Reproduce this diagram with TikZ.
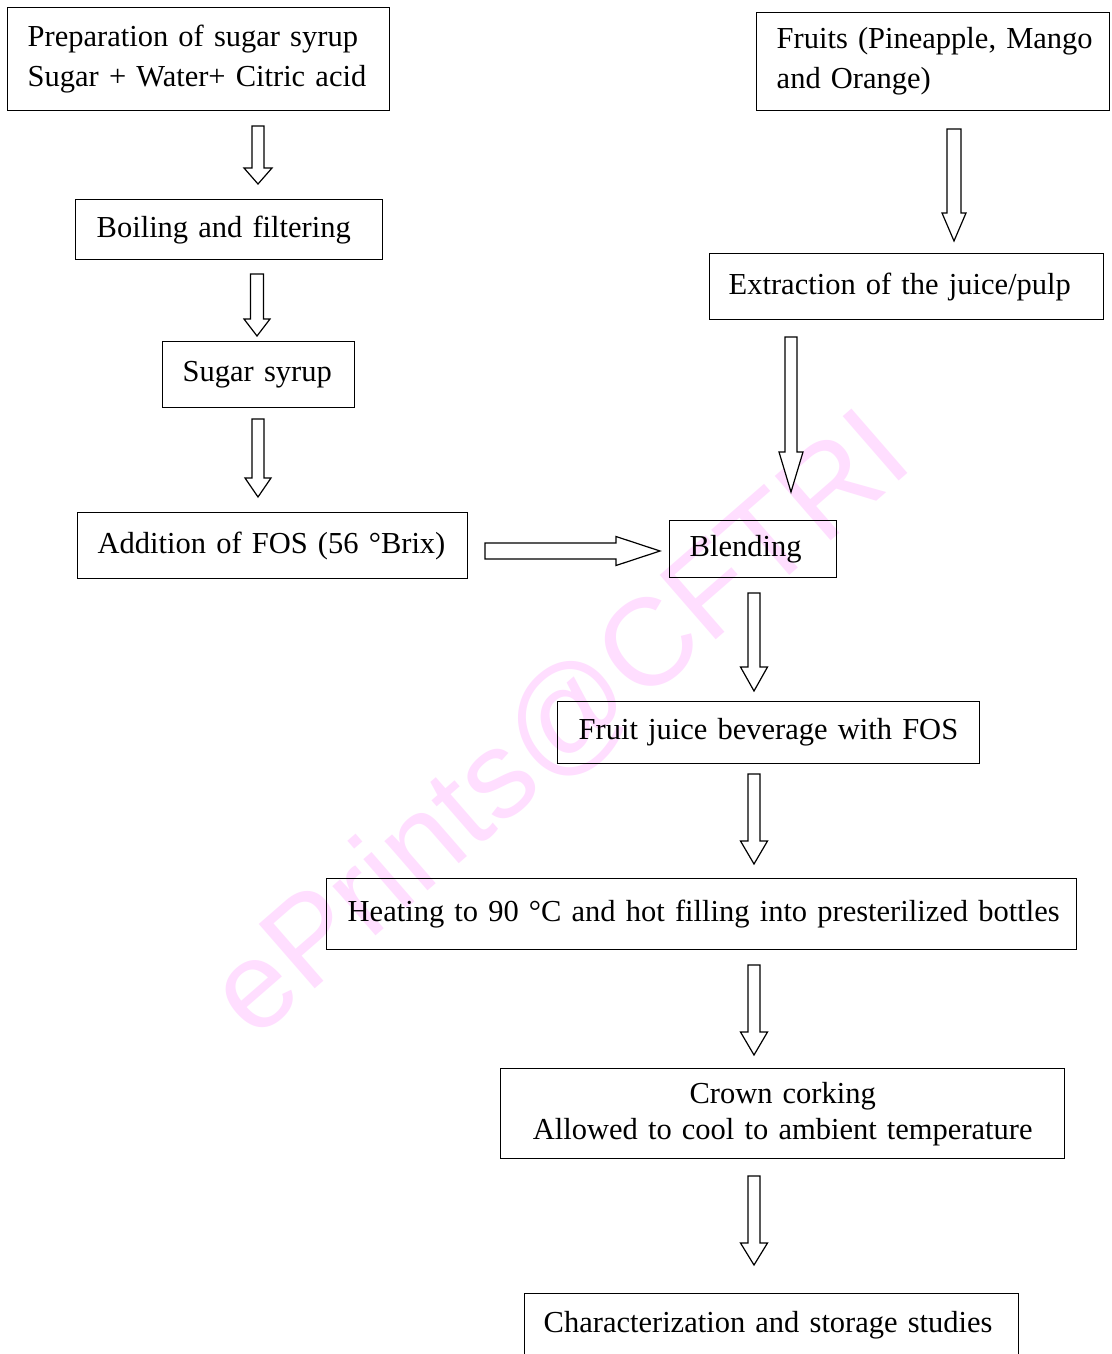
\documentclass[tikz,border=0pt]{standalone}
\usepackage{fontspec}
\setmainfont{Liberation Serif}
\newfontfamily\wmfont{Liberation Sans}
\usetikzlibrary{calc}
\definecolor{wmpink}{RGB}{255,222,255}
\tikzset{
  box/.style={draw, line width=1.4pt, anchor=north west, inner ysep=0pt, align=left,
    font=\fontsize{30.5}{40}\selectfont},
  blk/.style={draw, fill=white, line width=1.2pt, line join=miter},
}
\newcommand\vblock[5]{%
  \draw[blk] let \p1=(#1), \p2=(#2) in
    (\x1-#4pt,\y1) -- (\x1+#4pt,\y1) -- (\x1+#4pt,\y2+#3pt) -- (\x1+#5pt,\y2+#3pt)
    -- (\x2,\y2) -- (\x1-#5pt,\y2+#3pt) -- (\x1-#4pt,\y2+#3pt) -- cycle;}
\newcommand\hblock[5]{%
  \draw[blk] let \p1=(#1), \p2=(#2) in
    (\x1,\y1+#4pt) -- (\x2-#3pt,\y1+#4pt) -- (\x2-#3pt,\y1+#5pt) -- (\x2,\y2)
    -- (\x2-#3pt,\y1-#5pt) -- (\x2-#3pt,\y1-#4pt) -- (\x1,\y1-#4pt) -- cycle;}
\begin{document}
\begin{tikzpicture}[x=1pt,y=-1pt]
\useasboundingbox (0,0) rectangle (1111,1354);
\clip (0,0) rectangle (1111,1354);
\fill[white] (0,0) rectangle (1111,1354);
% watermark
\node[text=wmpink, font=\wmfont\fontsize{124}{124}\selectfont, rotate=41, inner sep=0pt] (wm) at (562,726) {ePrints@CFTRI};

% boxes
\node[box, minimum width=382pt, minimum height=103pt, inner xsep=20pt, text width=342pt] (A) at (7,7)
  {\mbox{Preparation of sugar syrup}\\\mbox{Sugar + Water+ Citric acid}};
\node[box, minimum width=307pt, minimum height=60pt, inner xsep=21pt, text width=265pt] (B) at (75,199)
  {\mbox{Boiling and filtering}};
\node[box, minimum width=192pt, minimum height=66pt, inner xsep=20pt, text width=152pt] (C) at (162,341)
  {\mbox{Sugar syrup}};
\node[box, minimum width=390pt, minimum height=66pt, inner xsep=20pt, text width=350pt] (D) at (77,512)
  {\mbox{Addition of FOS (56 °Brix)}};
\node[box, minimum width=167pt, minimum height=57pt, inner xsep=20pt, text width=127pt] (BL) at (669,520)
  {\mbox{Blending}};
\node[box, minimum width=353pt, minimum height=98pt, inner xsep=20pt, text width=313pt] (E) at (756,12)
  {\mbox{Fruits (Pineapple, Mango}\\\mbox{and Orange)}};
\node[box, minimum width=394pt, minimum height=66pt, inner xsep=19pt, text width=356pt] (F) at (709,253)
  {\mbox{Extraction of the juice/pulp}};
\node[box, minimum width=422pt, minimum height=62pt, inner xsep=21pt, text width=380pt] (G) at (557,701)
  {\mbox{Fruit juice beverage with FOS}};
\node[box, minimum width=750pt, minimum height=71pt, inner xsep=21pt, text width=708pt] (H) at (326,878)
  {\mbox{Heating to 90 °C and hot filling into presterilized bottles}};
\node[box, minimum width=564pt, minimum height=90pt, inner xsep=20pt, text width=524pt, align=center,
  font=\fontsize{30.5}{36}\selectfont] (I) at (500,1068)
  {\mbox{Crown corking}\\\mbox{Allowed to cool to ambient temperature}};
\node[box, inner xsep=19pt, text width=456pt, inner ysep=6pt, text height=33pt, text depth=60pt] (J) at (524,1293)
  {\mbox{Characterization and storage studies}};

% arrow end points
\coordinate (a1s) at (258,126);  \coordinate (a1e) at (258,184);
\coordinate (a2s) at (257,274);  \coordinate (a2e) at (257,336);
\coordinate (a3s) at (258,419);  \coordinate (a3e) at (258,497);
\coordinate (ahs) at (485,551);  \coordinate (ahe) at (660,551);
\coordinate (a4s) at (954,129);  \coordinate (a4e) at (954,241);
\coordinate (a5s) at (791,337);  \coordinate (a5e) at (791,492);
\coordinate (a6s) at (754,593);  \coordinate (a6e) at (754,691);
\coordinate (a7s) at (754,774);  \coordinate (a7e) at (754,864);
\coordinate (a8s) at (754,965);  \coordinate (a8e) at (754,1055);
\coordinate (a9s) at (754,1176); \coordinate (a9e) at (754,1265);

\vblock{a1s}{a1e}{16}{6}{14}
\vblock{a2s}{a2e}{17}{6.5}{13}
\vblock{a3s}{a3e}{19}{6}{13}
\hblock{ahs}{ahe}{44}{8}{14.5}
\vblock{a4s}{a4e}{28}{7}{12}
\vblock{a5s}{a5e}{40}{6}{12}
\vblock{a6s}{a6e}{24}{6}{13.5}
\vblock{a7s}{a7e}{23}{6}{13.5}
\vblock{a8s}{a8e}{23}{6}{13.5}
\vblock{a9s}{a9e}{22}{6}{13.5}
\end{tikzpicture}
\end{document}
